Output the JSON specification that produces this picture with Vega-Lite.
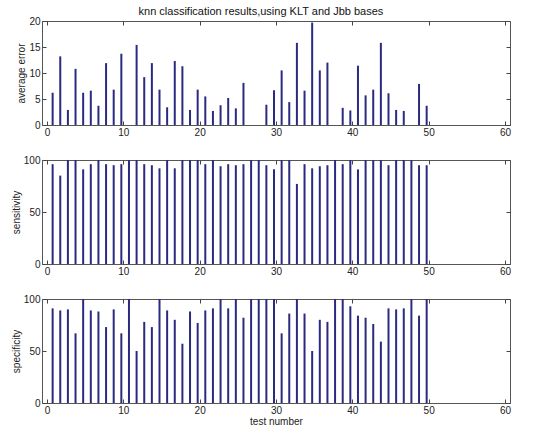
{
  "$schema": "https://vega.github.io/schema/vega-lite/v6.json",
  "background": "white",
  "padding": {"left": 10, "top": 5, "right": 5, "bottom": 5},
  "title": {"text": "knn classification results,using KLT and Jbb bases", "font": "Liberation Sans", "fontSize": 11, "fontWeight": "normal", "color": "#111", "anchor": "middle", "offset": -1},
  "datasets": {
    "d": [
      {"test": 1, "error": 6.2, "sens": 96, "spec": 91},
      {"test": 2, "error": 13.2, "sens": 85, "spec": 89},
      {"test": 3, "error": 2.9, "sens": 100, "spec": 90},
      {"test": 4, "error": 10.8, "sens": 100, "spec": 67},
      {"test": 5, "error": 6.2, "sens": 91, "spec": 100},
      {"test": 6, "error": 6.6, "sens": 96, "spec": 89},
      {"test": 7, "error": 3.7, "sens": 100, "spec": 88},
      {"test": 8, "error": 11.9, "sens": 96, "spec": 73},
      {"test": 9, "error": 6.8, "sens": 95, "spec": 90},
      {"test": 10, "error": 13.7, "sens": 96, "spec": 67},
      {"test": 11, "error": 0, "sens": 100, "spec": 100},
      {"test": 12, "error": 15.4, "sens": 100, "spec": 50},
      {"test": 13, "error": 9.2, "sens": 96, "spec": 78},
      {"test": 14, "error": 11.9, "sens": 95, "spec": 73},
      {"test": 15, "error": 6.8, "sens": 92, "spec": 100},
      {"test": 16, "error": 3.4, "sens": 100, "spec": 89},
      {"test": 17, "error": 12.3, "sens": 92, "spec": 80},
      {"test": 18, "error": 11.3, "sens": 100, "spec": 57},
      {"test": 19, "error": 2.9, "sens": 100, "spec": 88},
      {"test": 20, "error": 6.8, "sens": 100, "spec": 77},
      {"test": 21, "error": 5.5, "sens": 96, "spec": 89},
      {"test": 22, "error": 2.7, "sens": 100, "spec": 91},
      {"test": 23, "error": 3.8, "sens": 94, "spec": 100},
      {"test": 24, "error": 5.2, "sens": 96, "spec": 91},
      {"test": 25, "error": 3.2, "sens": 95, "spec": 100},
      {"test": 26, "error": 8.1, "sens": 96, "spec": 82},
      {"test": 27, "error": 0, "sens": 100, "spec": 100},
      {"test": 28, "error": 0, "sens": 100, "spec": 100},
      {"test": 29, "error": 3.9, "sens": 95, "spec": 100},
      {"test": 30, "error": 6.7, "sens": 91, "spec": 100},
      {"test": 31, "error": 10.5, "sens": 100, "spec": 67},
      {"test": 32, "error": 4.4, "sens": 100, "spec": 86},
      {"test": 33, "error": 15.8, "sens": 77, "spec": 100},
      {"test": 34, "error": 6.6, "sens": 96, "spec": 86},
      {"test": 35, "error": 19.7, "sens": 92, "spec": 50},
      {"test": 36, "error": 10.5, "sens": 94, "spec": 80},
      {"test": 37, "error": 12.0, "sens": 95, "spec": 78},
      {"test": 38, "error": 0, "sens": 100, "spec": 100},
      {"test": 39, "error": 3.3, "sens": 96, "spec": 100},
      {"test": 40, "error": 2.8, "sens": 100, "spec": 93},
      {"test": 41, "error": 11.4, "sens": 91, "spec": 84},
      {"test": 42, "error": 5.7, "sens": 100, "spec": 82},
      {"test": 43, "error": 6.8, "sens": 100, "spec": 76},
      {"test": 44, "error": 15.8, "sens": 100, "spec": 59},
      {"test": 45, "error": 6.1, "sens": 95, "spec": 91},
      {"test": 46, "error": 2.9, "sens": 100, "spec": 90},
      {"test": 47, "error": 2.7, "sens": 100, "spec": 91},
      {"test": 48, "error": 0, "sens": 100, "spec": 100},
      {"test": 49, "error": 7.9, "sens": 95, "spec": 84},
      {"test": 50, "error": 3.7, "sens": 95, "spec": 100}
    ]
  },
  "spacing": 35,
  "bounds": "flush",
  "vconcat": [
    {
      "width": 468, "height": 104,
      "data": {"name": "d"},
      "layer": [
        {"mark": {"type": "bar", "width": 2, "color": "#2a2a80", "xOffset": -2},
         "encoding": {
           "x": {"field": "test", "type": "quantitative", "scale": {"domain": [0, 60], "nice": false}, "axis": {"orient": "bottom", "values": [0, 10, 20, 30, 40, 50, 60], "title": null}},
           "y": {"field": "error", "type": "quantitative", "scale": {"domain": [0, 20], "nice": false}, "axis": {"orient": "left", "values": [0, 5, 10, 15, 20], "title": "average error"}}
         }},
        {"mark": {"type": "point", "opacity": 0},
         "encoding": {
           "x": {"field": "test", "type": "quantitative", "axis": {"orient": "top", "values": [0, 10, 20, 30, 40, 50, 60], "labels": false, "title": null}},
           "y": {"field": "error", "type": "quantitative", "axis": {"orient": "right", "values": [0, 5, 10, 15, 20], "labels": false, "title": null}}
         }}
      ],
      "resolve": {"axis": {"x": "independent", "y": "independent"}}
    },
    {
      "width": 468, "height": 104,
      "data": {"name": "d"},
      "layer": [
        {"mark": {"type": "bar", "width": 2, "color": "#2a2a80", "xOffset": -2},
         "encoding": {
           "x": {"field": "test", "type": "quantitative", "scale": {"domain": [0, 60], "nice": false}, "axis": {"orient": "bottom", "values": [0, 10, 20, 30, 40, 50, 60], "title": null}},
           "y": {"field": "sens", "type": "quantitative", "scale": {"domain": [0, 100], "nice": false}, "axis": {"orient": "left", "values": [0, 50, 100], "title": "sensitivity"}}
         }},
        {"mark": {"type": "point", "opacity": 0},
         "encoding": {
           "x": {"field": "test", "type": "quantitative", "axis": {"orient": "top", "values": [0, 10, 20, 30, 40, 50, 60], "labels": false, "title": null}},
           "y": {"field": "sens", "type": "quantitative", "axis": {"orient": "right", "values": [0, 50, 100], "labels": false, "title": null}}
         }}
      ],
      "resolve": {"axis": {"x": "independent", "y": "independent"}}
    },
    {
      "width": 468, "height": 104,
      "data": {"name": "d"},
      "layer": [
        {"mark": {"type": "bar", "width": 2, "color": "#2a2a80", "xOffset": -2},
         "encoding": {
           "x": {"field": "test", "type": "quantitative", "scale": {"domain": [0, 60], "nice": false}, "axis": {"orient": "bottom", "values": [0, 10, 20, 30, 40, 50, 60], "title": "test number"}},
           "y": {"field": "spec", "type": "quantitative", "scale": {"domain": [0, 100], "nice": false}, "axis": {"orient": "left", "values": [0, 50, 100], "title": "specificity"}}
         }},
        {"mark": {"type": "point", "opacity": 0},
         "encoding": {
           "x": {"field": "test", "type": "quantitative", "axis": {"orient": "top", "values": [0, 10, 20, 30, 40, 50, 60], "labels": false, "title": null}},
           "y": {"field": "spec", "type": "quantitative", "axis": {"orient": "right", "values": [0, 50, 100], "labels": false, "title": null}}
         }}
      ],
      "resolve": {"axis": {"x": "independent", "y": "independent"}}
    }
  ],
  "config": {
    "view": {"stroke": "#555", "strokeWidth": 1},
    "axis": {
      "grid": false,
      "domain": false,
      "tickSize": -4,
      "tickColor": "#444",
      "labelFont": "Liberation Sans",
      "labelFontSize": 10,
      "labelColor": "#222",
      "labelPadding": 6,
      "titleFont": "Liberation Sans",
      "titleFontSize": 10,
      "titleFontWeight": "normal",
      "titleColor": "#222"
    },
    "axisLeft": {"titlePadding": 2},
    "axisBottom": {"titlePadding": 1}
  }
}
